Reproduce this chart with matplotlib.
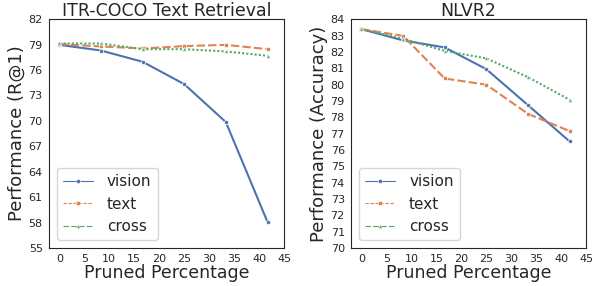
import matplotlib
matplotlib.use("Agg")
import matplotlib.pyplot as plt
from matplotlib.lines import Line2D
import seaborn as sns

# pruned percentage of layers
pruned = [0, 8.33, 16.67, 25, 33.33, 41.67]

coco_vision = [78.97, 78.3, 76.97, 74.33, 69.85, 58.06]
coco_text = [79.05, 78.78, 78.54, 78.82, 78.97, 78.46]
coco_cross = [79.13, 79.13, 78.46, 78.46, 78.19, 77.68]

nlvr_vision = [83.39, 82.70, 82.27, 80.94, 78.74, 76.52]
nlvr_text = [83.39, 82.98, 80.37, 79.99, 78.21, 77.15]
nlvr_cross = [83.39, 82.80, 82.06, 81.60, 80.45, 79.07]

series_names = ["vision", "text", "cross"]

sns.set_style("white")
plt.rcParams['font.family'] = ['DejaVu Sans']
colors = sns.color_palette("deep")

fig = plt.figure(figsize=(5.97, 2.86), dpi=100)
ax1 = fig.add_axes([0.082, 0.133, 0.394, 0.80])
ax2 = fig.add_axes([0.588, 0.133, 0.394, 0.80])

styles = [("-", "o"), ((0, (4, 1.5)), "s"), ((0, (1, 1)), "^")]
legend_ls = ["-", (0, (3, 1.5)), (0, (5, 2))]


def draw(ax, data, title, ylabel, yticks):
    handles = []
    for i, (vals, name) in enumerate(zip(data, series_names)):
        ls, mk = styles[i]
        ax.plot(pruned, vals, linestyle=ls, marker=mk, markersize=3,
                markeredgecolor="white", markeredgewidth=0.5,
                color=colors[i], linewidth=1.5)
        handles.append(Line2D([], [], linestyle=legend_ls[i], marker=mk,
                              markersize=3, markeredgecolor="white",
                              markeredgewidth=0.4, color=colors[i],
                              linewidth=0.8, label=name))
    ax.set_title(title, fontsize=12.5, pad=2)
    ax.set_xlabel("Pruned Percentage", fontsize=12.5, labelpad=0)
    ax.set_ylabel(ylabel, fontsize=13, labelpad=2)
    ax.set_xticks(range(0, 50, 5))
    ax.set_yticks(yticks)
    ax.set_ylim(yticks[0], yticks[-1])
    ax.tick_params(labelsize=8, pad=1)
    for s in ax.spines.values():
        s.set_color("0.15")
    ax.legend(handles=handles, loc="lower left", fontsize=11,
              handlelength=2.0, handletextpad=0.9)


draw(ax1, [coco_vision, coco_text, coco_cross], "ITR-COCO Text Retrieval",
     "Performance (R@1)", list(range(55, 83, 3)))
draw(ax2, [nlvr_vision, nlvr_text, nlvr_cross], "NLVR2",
     "Performance (Accuracy)", list(range(70, 85, 1)))

fig.savefig("out.png", dpi=100)
